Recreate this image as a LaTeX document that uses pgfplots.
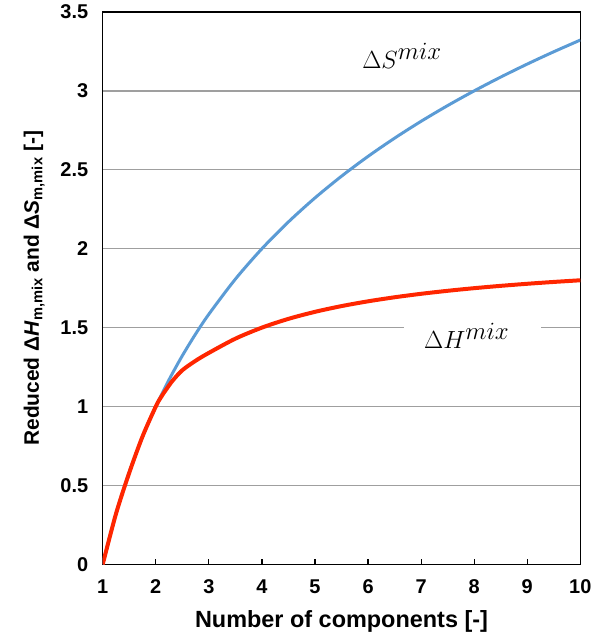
\documentclass[border=0pt]{standalone}
\usepackage{fontspec}
\setmainfont{Liberation Sans}
\usepackage{pgfplots}
\pgfplotsset{compat=1.18}
\definecolor{sblue}{RGB}{91,155,213}
\definecolor{hred}{RGB}{255,38,0}
\begin{document}
\begin{tikzpicture}
\begin{axis}[
    scale only axis,
    width=479pt, height=554pt,
    xmin=1, xmax=10, ymin=0, ymax=3.5,
    xtick={1,2,...,10},
    ytick={0,0.5,...,3.5},
    /pgf/number format/assume math mode=true,
    tick label style={font=\fontsize{20}{22}\selectfont\bfseries},
    xlabel style={font=\fontsize{23.5}{26}\selectfont\bfseries},
    ylabel style={font=\fontsize{21}{24}\selectfont\bfseries},
    xlabel={Number of components [-]},
    ylabel={Reduced Δ\textit{H}\textsubscript{m,mix} and Δ\textit{S}\textsubscript{m,mix} [-]},
    ymajorgrids,
    grid style={gray!75, line width=1.3pt},
    axis line style={line width=1.3pt},
    xtick pos=bottom, xtick align=inside,
    major tick length=5pt,
    ytick style={draw=none},
    x tick style={line width=1.2pt, black},
    xticklabel shift=12pt,
    yticklabel shift=11pt,
    xlabel shift=10pt,
    ylabel shift=9pt,
]
\addplot[sblue, line width=3pt, smooth] coordinates {
(1,0) (1.25,0.3219) (1.5,0.585) (1.75,0.8074) (2,1) (2.25,1.1699) (2.5,1.3219)
(2.75,1.4594) (3,1.585) (3.5,1.8074) (4,2) (4.5,2.1699) (5,2.3219) (5.5,2.4594)
(6,2.585) (6.5,2.7004) (7,2.8074) (7.5,2.9069) (8,3) (8.5,3.0875) (9,3.1699)
(9.5,3.2479) (10,3.3219)};
\addplot[hred, line width=4pt, smooth] coordinates {
(1,0) (1.25,0.32) (1.5,0.58) (1.75,0.81) (2,1) (2.1,1.06) (2.2,1.11) (2.32,1.165)
(2.5,1.23) (2.75,1.29) (3,1.34) (3.5,1.43) (4,1.5) (4.5,1.5556) (5,1.6) (5.5,1.6364)
(6,1.6667) (6.5,1.6923) (7,1.7143) (7.5,1.7333) (8,1.75) (8.5,1.7647) (9,1.7778)
(9.5,1.7895) (10,1.8)};
\node[fill=white, minimum width=137pt, minimum height=6pt, inner sep=0pt] at (axis cs:7.97,1.5) {};
\node[font=\fontsize{33}{35}\selectfont] at (axis cs:7.86,1.45) {$\Delta H^{mix}$};
\node[font=\fontsize{33}{35}\selectfont] at (axis cs:6.64,3.22) {$\Delta S^{mix}$};
\coordinate (ll) at (rel axis cs:0,0);
\coordinate (ur) at (rel axis cs:1,1);
\end{axis}
\path[use as bounding box] ([shift={(-103pt,-70pt)}]ll) rectangle ([shift={(17pt,12pt)}]ur);
\end{tikzpicture}
\end{document}
